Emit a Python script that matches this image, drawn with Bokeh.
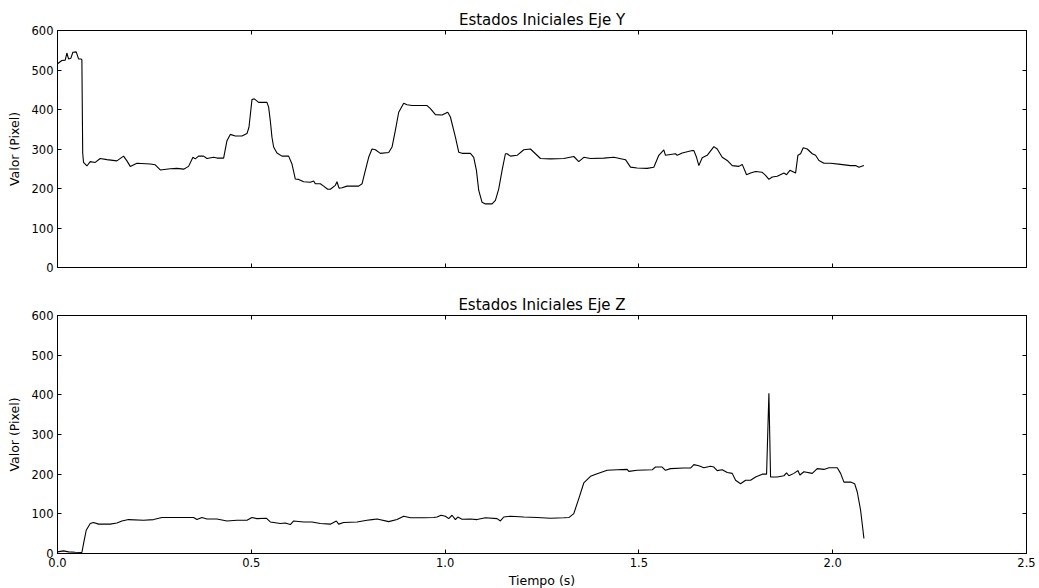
from bokeh.plotting import figure
from bokeh.layouts import column
from bokeh.models import (Range1d, FixedTicker, LinearAxis, PrintfTickFormatter,
                          CustomJSTickFormatter)
from bokeh.embed import file_html
from bokeh.resources import INLINE

# ---- data ----
t_y = [0.0, 0.0113, 0.0199, 0.0242, 0.0285, 0.0345, 0.0397, 0.0483, 0.0543, 0.0603,
       0.0629, 0.0650, 0.0672, 0.0758, 0.0844, 0.0973, 0.1102, 0.1274, 0.1532, 0.1704,
       0.1791, 0.1877, 0.2049, 0.2393, 0.2522, 0.2651, 0.2909, 0.3081, 0.3253, 0.3382,
       0.3494, 0.3554, 0.3640, 0.3769, 0.3856, 0.4028, 0.4114, 0.4286, 0.4372, 0.4458,
       0.4587, 0.4759, 0.4888, 0.4940, 0.5017, 0.5077, 0.5189, 0.5404, 0.5447, 0.5490,
       0.5533, 0.5576, 0.5662, 0.5791, 0.5963, 0.6050, 0.6136, 0.6222, 0.6351, 0.6523,
       0.6609, 0.6652, 0.6781, 0.6867, 0.6970, 0.7039, 0.7168, 0.7211, 0.7263, 0.7341,
       0.7470, 0.7771, 0.7857, 0.7943, 0.8028, 0.8114, 0.8201, 0.8330, 0.8545, 0.8631,
       0.8717, 0.8803, 0.8932, 0.9018, 0.9147, 0.9535, 0.9621, 0.9750, 0.9922, 1.0068,
       1.0137, 1.0266, 1.0352, 1.0438, 1.0653, 1.0739, 1.0808, 1.0868, 1.0954, 1.1040,
       1.1212, 1.1298, 1.1384, 1.1470, 1.1556, 1.1599, 1.1686, 1.1858, 1.2030, 1.2202,
       1.2331, 1.2460, 1.2718, 1.3062, 1.3320, 1.3449, 1.3578, 1.3751, 1.4095, 1.4353,
       1.4654, 1.4783, 1.4955, 1.5213, 1.5385, 1.5514, 1.5643, 1.5686, 1.5815, 1.5944,
       1.5988, 1.6117, 1.6375, 1.6418, 1.6487, 1.6547, 1.6633, 1.6762, 1.6934, 1.7020,
       1.7150, 1.7279, 1.7408, 1.7580, 1.7666, 1.7778, 1.7881, 1.8010, 1.8182, 1.8268,
       1.8354, 1.8440, 1.8569, 1.8741, 1.8810, 1.8896, 1.9042, 1.9102, 1.9171, 1.9240,
       1.9343, 1.9472, 1.9558, 1.9645, 1.9774, 1.9946, 2.0204, 2.0462, 2.0591, 2.0677,
       2.0806]
v_y = [516, 524, 525, 543, 528, 530, 545, 546, 528, 528,
       526, 290, 266, 257, 268, 266, 276, 273, 270, 282,
       270, 256, 264, 262, 260, 247, 250, 251, 249, 256,
       279, 275, 282, 282, 276, 279, 277, 277, 321, 337,
       333, 333, 339, 355, 425, 427, 418, 418, 406, 372,
       330, 305, 290, 282, 282, 262, 224, 223, 217, 216,
       219, 212, 212, 206, 198, 198, 208, 217, 201, 202,
       206, 206, 212, 246, 279, 300, 298, 289, 291, 305,
       347, 393, 416, 412, 410, 410, 402, 387, 386, 393,
       381, 330, 292, 289, 289, 279, 246, 195, 165, 161,
       161, 170, 199, 246, 288, 288, 282, 284, 298, 300,
       288, 276, 275, 276, 281, 268, 279, 276, 277, 279,
       273, 254, 252, 251, 254, 284, 298, 284, 286, 288,
       284, 290, 296, 296, 279, 258, 278, 284, 306, 300,
       279, 271, 258, 256, 261, 235, 239, 243, 241, 233,
       223, 229, 231, 239, 235, 246, 239, 284, 288, 303,
       300, 288, 284, 271, 264, 264, 261, 258, 258, 254,
       258]

t_z = [0.0, 0.0155, 0.0285, 0.0457, 0.0629, 0.0672, 0.0741, 0.0844, 0.0930, 0.1059,
       0.1360, 0.1532, 0.1661, 0.1833, 0.2221, 0.2479, 0.2694, 0.2909, 0.3253, 0.3511,
       0.3597, 0.3726, 0.3856, 0.4114, 0.4372, 0.4630, 0.4888, 0.5017, 0.5146, 0.5387,
       0.5490, 0.5749, 0.5877, 0.6007, 0.6093, 0.6351, 0.6566, 0.6781, 0.7039, 0.7194,
       0.7254, 0.7383, 0.7727, 0.7985, 0.8114, 0.8244, 0.8545, 0.8760, 0.8932, 0.9104,
       0.9449, 0.9707, 0.9793, 0.9896, 1.0008, 1.0094, 1.0180, 1.0266, 1.0326, 1.0438,
       1.0653, 1.0825, 1.1040, 1.1341, 1.1427, 1.1513, 1.1686, 1.2030, 1.2374, 1.2718,
       1.3062, 1.3191, 1.3320, 1.3449, 1.3578, 1.3751, 1.3923, 1.4181, 1.4439, 1.4697,
       1.4740, 1.4955, 1.5342, 1.5428, 1.5600, 1.5686, 1.5815, 1.6159, 1.6331, 1.6418,
       1.6547, 1.6676, 1.6848, 1.6934, 1.7020, 1.7150, 1.7279, 1.7408, 1.7494, 1.7623,
       1.7752, 1.7881, 1.8010, 1.8182, 1.8294, 1.8354, 1.8397, 1.8569, 1.8741, 1.8810,
       1.8870, 1.8999, 1.9102, 1.9154, 1.9257, 1.9472, 1.9601, 1.9774, 1.9903, 2.0118,
       2.0204, 2.0290, 2.0462, 2.0566, 2.0634, 2.0720, 2.0806]
v_z = [4, 6.6, 4, 3, 2.5, 25, 58.6, 75.5, 78, 74,
       74, 77, 82, 85.5, 84, 85.5, 90.6, 90.6, 90.6, 90.6,
       85.5, 90.6, 87, 87, 82, 84, 84, 90.6, 88, 89,
       79.6, 75.5, 77, 73, 82, 79.6, 79.6, 75.5, 74, 82,
       74, 78, 79.6, 84, 85.5, 87, 80.4, 85.5, 94, 90,
       90, 90.6, 92, 96.4, 94, 88, 96.4, 85.5, 92, 86.5,
       87, 85.5, 90, 88, 82, 92, 94, 92, 90.6, 89,
       90, 90.6, 100.6, 138.4, 177.8, 194.6, 201, 209.7, 211, 212,
       207, 209.7, 211, 218, 218, 209.7, 214, 215.5, 215.5, 224,
       221, 216, 220, 218, 209, 211, 204, 202, 184.6, 176,
       184.6, 184.6, 193, 200, 200, 404, 193, 193, 196, 203,
       196, 202, 209, 198, 206, 202, 214, 212, 216, 216,
       202, 180, 180, 176, 155, 109, 37.7]

x_ticks = [0.0, 0.5, 1.0, 1.5, 2.0, 2.5]
y_ticks = [0, 100, 200, 300, 400, 500, 600]

FONT = "DejaVu Sans"


def style_axis(ax, ticks, show_labels):
    ax.ticker = FixedTicker(ticks=ticks)
    ax.axis_line_color = "black"
    ax.axis_line_width = 1
    ax.major_tick_in = 4
    ax.major_tick_out = 0
    ax.major_tick_line_color = "black"
    ax.minor_tick_in = 0
    ax.minor_tick_out = 0
    ax.major_label_text_font = FONT
    ax.major_label_text_color = "black"
    ax.major_label_text_font_size = "11.5px"
    ax.axis_label_text_font = FONT
    ax.axis_label_text_font_style = "normal"
    ax.axis_label_text_font_size = "12.5px"
    ax.axis_label_text_color = "black"
    if show_labels:
        ax.major_label_standoff = 4
    else:
        # tick marks only: labels are empty strings
        ax.formatter = CustomJSTickFormatter(code="return ''")
        ax.major_label_standoff = 0


def make_fig(title, tx, ty, frame_h, top, bottom, show_x):
    p = figure(frame_width=969, frame_height=frame_h,
               x_range=Range1d(0, 2.5), y_range=Range1d(0, 600),
               output_backend="svg", toolbar_location=None,
               min_border_left=57, min_border_right=13,
               min_border_top=top, min_border_bottom=bottom,
               background_fill_color="white", border_fill_color="white")
    p.title.text = title
    p.title.align = "center"
    p.title.text_font = FONT
    p.title.text_font_size = "15px"
    p.title.text_font_style = "normal"
    p.title.text_color = "black"
    p.title.standoff = 4
    p.grid.visible = False
    p.outline_line_color = "black"
    p.outline_line_width = 1

    style_axis(p.xaxis[0], x_ticks, show_x)
    style_axis(p.yaxis[0], y_ticks, True)
    if show_x:
        p.xaxis[0].formatter = PrintfTickFormatter(format="%.1f")
        p.xaxis[0].axis_label = "Tiempo (s)"
        p.xaxis[0].axis_label_standoff = 3
    p.yaxis[0].axis_label = "Valor (Pixel)"
    p.yaxis[0].axis_label_standoff = 7

    ra = LinearAxis()
    style_axis(ra, y_ticks, False)
    p.add_layout(ra, "right")
    aa = LinearAxis()
    style_axis(aa, x_ticks, False)
    p.add_layout(aa, "above")

    p.line(tx, ty, line_color="black", line_width=1.1)
    return p


p1 = make_fig("Estados Iniciales Eje Y", t_y, v_y, 237, 30, 24, False)
p2 = make_fig("Estados Iniciales Eje Z", t_z, v_z, 238, 24, 35, True)

layout = column(p1, p2, spacing=0)
open("out.html", "w").write(file_html(layout, INLINE))
